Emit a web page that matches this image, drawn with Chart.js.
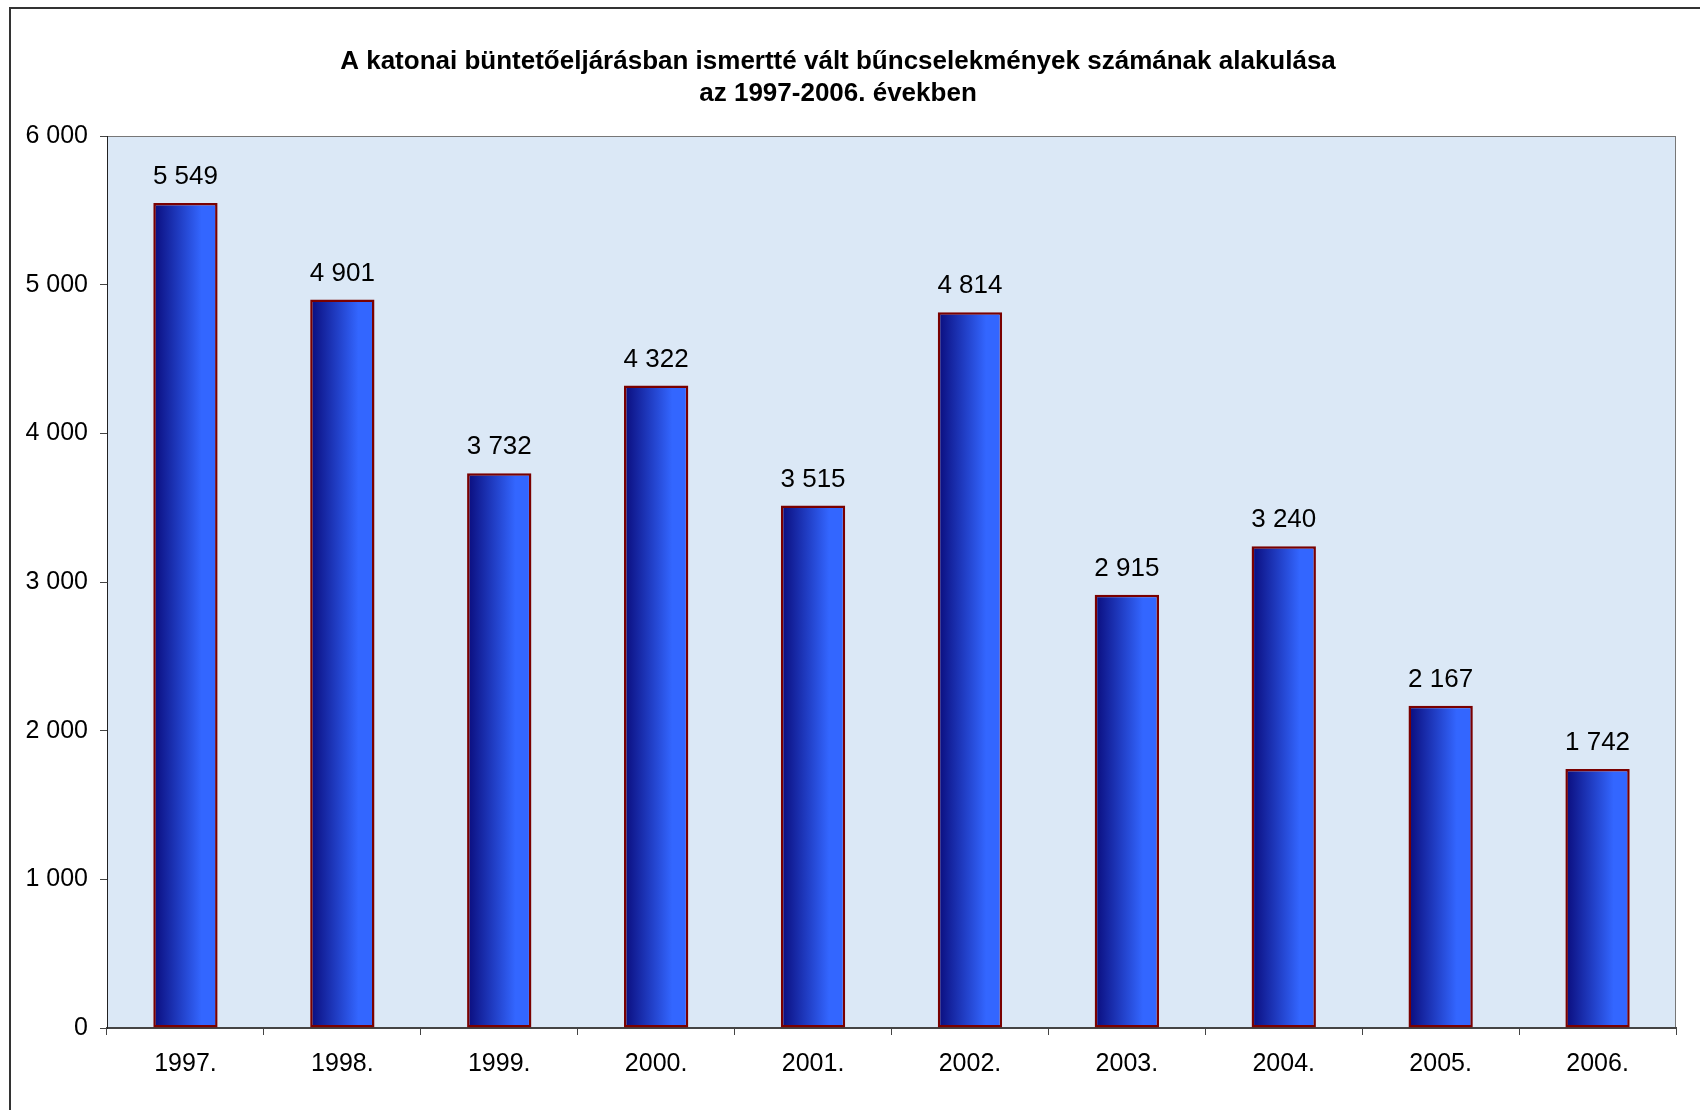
<!DOCTYPE html>
<html>
<head>
<meta charset="utf-8">
<script src="https://cdn.jsdelivr.net/npm/chart.js@4"></script>
<style>
  body { margin: 0; background: #fff; }
  canvas { display: block; }
</style>
</head>
<body>
<canvas id="crimeChart" width="1700" height="1110"></canvas>
<script>
// Chart data
const years = ['1997.', '1998.', '1999.', '2000.', '2001.', '2002.', '2003.', '2004.', '2005.', '2006.'];
const crimeCounts = [5549, 4901, 3732, 4322, 3515, 4814, 2915, 3240, 2167, 1742];
const titleLines = [
  'A katonai büntetőeljárásban ismertté vált bűncselekmények számának alakulása',
  'az 1997-2006. években'
];

const BAR_PCT = 0.41;
const FONT = 'Arial, "Liberation Sans", sans-serif';

// space as thousands separator, e.g. 5 549
const fmt = (v) => String(v).replace(/\B(?=(\d{3})+(?!\d))/g, ' ');

// frame, plot background and value labels
const decorations = {
  id: 'decorations',
  beforeDraw(chart) {
    const { ctx, chartArea: a } = chart;
    ctx.save();
    ctx.strokeStyle = '#333';
    ctx.lineWidth = 2;
    ctx.strokeRect(10, 8, 1720, 1130);
    ctx.fillStyle = '#dbe8f6';
    ctx.fillRect(a.left, a.top, a.right - a.left, a.bottom - a.top);
    ctx.strokeStyle = '#777';
    ctx.lineWidth = 1;
    ctx.strokeRect(a.left + 0.5, a.top + 0.5, a.right - a.left - 1, a.bottom - a.top);
    ctx.restore();
  },
  afterDatasetsDraw(chart) {
    const { ctx } = chart;
    const meta = chart.getDatasetMeta(0);
    ctx.save();
    ctx.fillStyle = '#000';
    ctx.font = '26px ' + FONT;
    ctx.textAlign = 'center';
    ctx.textBaseline = 'middle';
    meta.data.forEach((bar, i) => {
      ctx.fillText(fmt(crimeCounts[i]), bar.x, bar.y - 26);
    });
    ctx.restore();
  }
};

const ctx = document.getElementById('crimeChart');

new Chart(ctx, {
  type: 'bar',
  data: {
    labels: years,
    datasets: [{
      data: crimeCounts,
      backgroundColor: (c) => {
        const chart = c.chart;
        const area = chart.chartArea;
        if (!area || !chart.scales.x) return '#2a45d0';
        const x = chart.scales.x.getPixelForValue(c.dataIndex);
        const half = (area.right - area.left) / years.length * BAR_PCT / 2;
        const g = chart.ctx.createLinearGradient(x - half, 0, x + half, 0);
        g.addColorStop(0, '#0a0c7c');
        g.addColorStop(0.75, '#3366ff');
        g.addColorStop(1, '#3366ff');
        return g;
      },
      borderColor: '#7a0000',
      borderWidth: 2.5,
      borderSkipped: false,
      barPercentage: BAR_PCT,
      categoryPercentage: 1
    }]
  },
  options: {
    responsive: false,
    animation: false,
    layout: { padding: { left: 0, right: 24, top: 0, bottom: 0 } },
    plugins: {
      legend: { display: false },
      tooltip: { enabled: false },
      title: {
        display: true,
        text: titleLines,
        color: '#000',
        font: { family: FONT, size: 26, weight: 'bold', lineHeight: 32 / 26 },
        padding: { top: 46, bottom: 26 }
      }
    },
    scales: {
      x: {
        grid: {
          drawOnChartArea: false,
          tickLength: 7,
          color: '#444',
          offset: true
        },
        border: { color: '#444', width: 2 },
        ticks: {
          color: '#000',
          font: { family: FONT, size: 25 },
          padding: 14,
          maxRotation: 0
        },
        afterFit(scale) { scale.height = 82; }
      },
      y: {
        min: 0,
        max: 6000,
        grid: {
          drawOnChartArea: false,
          tickLength: 7,
          color: '#444'
        },
        border: { color: '#222', width: 1 },
        ticks: {
          stepSize: 1000,
          color: '#000',
          font: { family: FONT, size: 25 },
          padding: 12,
          callback: (v) => fmt(v)
        },
        afterFit(scale) { scale.width = 107; }
      }
    }
  },
  plugins: [decorations]
});
</script>
</body>
</html>
